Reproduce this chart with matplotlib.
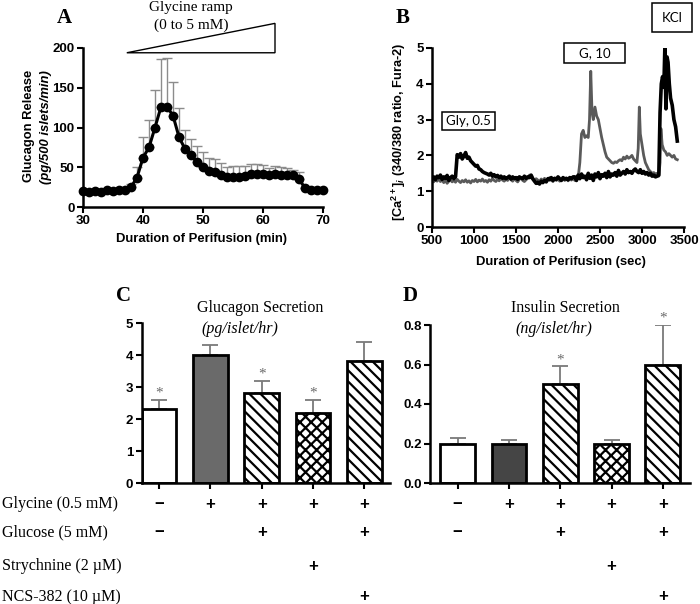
import numpy as np
import matplotlib
matplotlib.use('Agg')
import matplotlib.pyplot as plt
from matplotlib.patches import Polygon, Rectangle
from matplotlib.transforms import blended_transform_factory

# ---------------- data ----------------
# Panel A: glucagon release during glycine ramp
a_time = np.arange(30, 71)
a_mean = [20, 19, 20, 19, 22, 20, 21, 21, 25, 37, 62, 75, 100, 126, 126, 115, 88, 73, 65, 57,
          50, 45, 44, 40, 38, 38, 38, 39, 41, 42, 41, 40, 41, 40, 40, 40, 35, 24, 22, 22, 22]
a_top = [20, 19, 20, 19, 22, 20, 21, 22, 29, 50, 88, 109, 147, 186, 187, 157, 125, 97, 86, 77,
         69, 62, 61, 55, 50, 52, 52, 52, 54, 54, 53, 49, 51, 50, 49, 47, 44, 24, 22, 22, 22]

# Panel B: calcium traces
b_black_flat = [1.35, 1.40, 1.32, 1.42, 1.38, 1.45, 1.33, 1.40, 1.36, 1.44, 1.30, 1.38, 1.42, 1.35, 1.40,
                2.02, 1.95, 2.05, 1.90, 1.98, 2.08, 1.92, 1.95,
                1.85, 1.80, 1.75, 1.70, 1.72, 1.62, 1.60, 1.55, 1.52, 1.50,
                1.48, 1.45, 1.50, 1.42, 1.46, 1.40, 1.44, 1.38, 1.42, 1.36, 1.40, 1.35, 1.38, 1.42,
                1.34, 1.40, 1.36, 1.38, 1.33, 1.40, 1.37, 1.35, 1.42, 1.36, 1.40, 1.38, 1.45,
                1.35, 1.28, 1.22, 1.25, 1.20, 1.28, 1.24, 1.30, 1.26, 1.35,
                1.32, 1.38, 1.30, 1.36, 1.33, 1.40, 1.35, 1.30, 1.38, 1.34, 1.36, 1.32, 1.38, 1.35, 1.40,
                1.40, 1.30, 1.45, 1.35, 1.48, 1.38, 1.42, 1.32, 1.50, 1.36, 1.45, 1.30, 1.48, 1.40,
                1.52, 1.35, 1.46, 1.42, 1.50, 1.38, 1.55, 1.40, 1.48, 1.45, 1.52, 1.42, 1.58, 1.45,
                1.50, 1.55, 1.48, 1.60, 1.52, 1.55, 1.50, 1.58, 1.62, 1.55, 1.52, 1.60, 1.50, 1.55,
                1.48, 1.52, 1.45, 1.50, 1.42, 1.45, 1.40, 1.42,
                1.45]
b_black_peak_t = [3215, 3230, 3245, 3260, 3272, 3285, 3298, 3310, 3325, 3340, 3360, 3380, 3400, 3420]
b_black_peak = [3.2, 4.0, 4.2, 3.9, 5.0, 3.3, 4.75, 4.6, 4.0, 3.6, 3.4, 3.0, 2.8, 2.4]

b_gray_flat = [1.30, 1.26, 1.33, 1.28, 1.35, 1.27, 1.31, 1.24, 1.30, 1.22, 1.28, 1.32, 1.26, 1.30, 1.25, 1.33,
               1.28, 1.24, 1.30, 1.26, 1.32, 1.25, 1.29, 1.23, 1.30, 1.27, 1.33, 1.26, 1.31, 1.28, 1.34,
               1.27, 1.30, 1.25, 1.32, 1.28,
               1.35, 1.30, 1.27, 1.33, 1.29, 1.36, 1.31, 1.28, 1.34, 1.30, 1.40, 1.32, 1.28, 1.35, 1.30,
               1.26, 1.33, 1.38, 1.30, 1.27,
               1.32, 1.36, 1.45, 1.38, 1.33, 1.29, 1.35, 1.31, 1.27, 1.34, 1.30, 1.36, 1.29, 1.33, 1.38,
               1.31, 1.27, 1.35, 1.30, 1.34,
               1.28, 1.33, 1.37, 1.30, 1.35, 1.29, 1.34, 1.31, 1.36, 1.30, 1.33, 1.38]
b_gray_peak_t = [2260, 2280, 2300, 2320, 2340, 2360, 2375, 2390, 2405, 2420, 2440, 2460, 2480, 2500,
                 2520, 2540, 2560, 2580, 2600, 2620, 2640, 2660, 2680, 2700, 2720, 2740, 2760, 2780,
                 2800, 2820, 2840, 2860, 2880, 2900, 2920, 2940, 2955, 2968, 2980, 3000, 3020, 3040,
                 3060, 3080, 3100, 3120, 3140, 3160, 3180, 3200, 3215, 3225, 3240, 3260, 3280, 3300,
                 3320, 3340, 3360, 3380, 3400, 3420]
b_gray_peak = [1.8, 2.6, 2.7, 2.5, 2.55, 2.5, 3.0, 4.35, 3.2, 3.0, 3.35, 3.1, 3.0, 2.75,
               2.5, 2.3, 2.1, 1.95, 1.9, 1.85, 1.8, 1.78, 1.82, 1.8, 1.85, 1.88, 1.85, 1.95,
               1.9, 1.98, 1.92, 1.95, 2.0, 1.9, 1.85, 1.8, 2.2, 3.35, 2.6, 2.3, 2.0, 1.8,
               1.7, 1.6, 1.55, 1.5, 1.52, 1.48, 1.5, 1.42, 1.8, 2.75, 2.3, 2.15, 2.1, 2.0,
               2.05, 2.0, 1.95, 2.0, 1.9, 1.88]

# Panels C & D
c_vals = [2.3, 4.0, 2.8, 2.2, 3.8]
c_err = [0.3, 0.3, 0.4, 0.4, 0.6]
c_sig = [True, False, True, True, False]
d_vals = [0.20, 0.20, 0.50, 0.20, 0.60]
d_err = [0.03, 0.02, 0.09, 0.02, 0.20]
d_sig = [False, False, True, False, True]

row_labels = ['Glycine (0.5 mM)', 'Glucose (5 mM)', 'Strychnine (2 \u00b5M)', 'NCS-382 (10 \u00b5M)']
row_signs = [['\u2212', '+', '+', '+', '+'],
             ['\u2212', '', '+', '', '+'],
             ['', '', '', '+', ''],
             ['', '', '', '', '+']]

# ---------------- style ----------------
plt.rcParams['font.family'] = ['Liberation Sans', 'DejaVu Sans']
plt.rcParams['hatch.linewidth'] = 1.6
plt.rcParams['mathtext.fontset'] = 'custom'
plt.rcParams['mathtext.rm'] = 'Liberation Sans:bold'
plt.rcParams['mathtext.bf'] = 'Liberation Sans:bold'
plt.rcParams['mathtext.it'] = 'Liberation Sans:bold:italic'

SERIF = 'Liberation Serif'
TICK_FS = 9.5
LAB_FS = 9.4

fig = plt.figure(figsize=(7, 6.04), dpi=100)


def style_axes(ax):
    for s in ['top', 'right']:
        ax.spines[s].set_visible(False)
    for s in ['left', 'bottom']:
        ax.spines[s].set_linewidth(1.8)
    ax.tick_params(direction='out', length=4, width=1.5, labelsize=TICK_FS, pad=2)
    for lab in ax.get_xticklabels() + ax.get_yticklabels():
        lab.set_fontweight('bold')


def fx(px):
    return px / 700.0


def fy(py):
    return 1 - py / 604.0


# ---------------- Panel A ----------------
axA = fig.add_axes([fx(83), fy(207), (323 - 83) / 700, (207 - 48) / 604])
a_mean_arr = np.array(a_mean)
a_err_up = np.array(a_top) - a_mean_arr
axA.errorbar(a_time, a_mean, yerr=[np.zeros_like(a_err_up), a_err_up], fmt='none',
             ecolor='#8c8c8c', elinewidth=1.0, capsize=3.5, capthick=1.0, zorder=1)
axA.plot(a_time, a_mean, color='black', lw=2.2, marker='o', ms=6, zorder=3, clip_on=False)
axA.set_xlim(30, 70)
axA.set_ylim(0, 200)
axA.set_xticks([30, 40, 50, 60, 70])
axA.set_yticks([0, 50, 100, 150, 200])
style_axes(axA)
tri = Polygon([[37.3, 194], [62, 231], [62, 194]], closed=True, fill=False, edgecolor='black',
              lw=1.0, clip_on=False, transform=axA.transData)
axA.add_patch(tri)
fig.text(fx(191), fy(8), 'Glycine ramp', ha='center', va='center', family=SERIF, fontsize=11)
fig.text(fx(191), fy(25), '(0 to 5 mM)', ha='center', va='center', family=SERIF, fontsize=11)
fig.text(fx(202), fy(239), 'Duration of Perifusion (min)', ha='center', va='center',
         fontsize=LAB_FS, fontweight='bold')
fig.text(fx(29), fy(126), 'Glucagon Release', ha='center', va='center', rotation=90,
         fontsize=LAB_FS, fontweight='bold')
fig.text(fx(46), fy(127), '(pg/500 islets/min)', ha='center', va='center', rotation=90,
         fontsize=LAB_FS, fontweight='bold', style='italic')
fig.text(fx(64), fy(18), 'A', ha='center', va='center', family=SERIF, fontsize=15, fontweight='bold')

# ---------------- Panel B ----------------
axB = fig.add_axes([fx(432), fy(227), (684 - 432) / 700, (227 - 48) / 604])
gray_t = np.concatenate([np.arange(500, 2241, 20), b_gray_peak_t])
gray_v = np.concatenate([b_gray_flat, b_gray_peak])
black_t = np.concatenate([np.arange(500, 3201, 20), b_black_peak_t])
black_v = np.concatenate([b_black_flat, b_black_peak])
axB.plot(gray_t, gray_v, color='#5a5a5a', lw=2.0, zorder=2)
axB.plot(black_t, black_v, color='black', lw=2.6, zorder=3)
axB.set_xlim(500, 3500)
axB.set_ylim(0, 5)
axB.set_xticks([500, 1000, 1500, 2000, 2500, 3000, 3500])
axB.set_yticks([0, 1, 2, 3, 4, 5])
style_axes(axB)
fig.text(fx(561), fy(262), 'Duration of Perifusion (sec)', ha='center', va='center',
         fontsize=LAB_FS, fontweight='bold')
fig.text(fx(399), fy(132), r'[Ca$^{2+}$]$_{\mathit{i}}$ (340/380 ratio, Fura-2)', ha='center',
         va='center', rotation=90, fontsize=9.2, fontweight='bold')
fig.text(fx(403), fy(18), 'B', ha='center', va='center', family=SERIF, fontsize=15, fontweight='bold')

for (x0, y0, x1, y1, txt) in [(442, 112, 495, 130, 'Gly, 0.5'),
                              (564, 43, 625, 63, 'G, 10'),
                              (652, 3, 692, 32, 'KCl')]:
    fig.patches.append(Rectangle((fx(x0), fy(y1)), (x1 - x0) / 700, (y1 - y0) / 604,
                                 transform=fig.transFigure, fill=False, edgecolor='black', lw=1.1))
    fig.text(fx((x0 + x1) / 2), fy((y0 + y1) / 2), txt, ha='center', va='center',
             family=['Lato', 'DejaVu Sans'], fontsize=9.5)

# ---------------- Panels C & D ----------------
faces_c = ['white', '#6a6a6a', 'white', 'white', 'white']
faces_d = ['white', '#454545', 'white', 'white', 'white']
hatches = ['', '', '\\\\\\', 'xxx', '\\\\\\']
xpos = np.arange(5)


def bar_panel(ax, vals, errs, sig, faces, ylim, yticks, yfmt):
    ax.errorbar(xpos, vals, yerr=[np.zeros(5), errs], fmt='none', ecolor='#7a7a7a',
                elinewidth=1.3, capsize=6, capthick=1.3, zorder=1)
    ax.bar(xpos, vals, width=0.68, color=faces, edgecolor='black', linewidth=2.0,
           hatch=hatches, zorder=2)
    for i in range(5):
        if sig[i]:
            ax.text(xpos[i], vals[i] + errs[i], '*', ha='center', va='bottom', family=SERIF,
                    fontsize=11, color='#6a6a6a')
    ax.set_ylim(*ylim)
    ax.set_yticks(yticks)
    ax.set_yticklabels([yfmt.format(v) for v in yticks])
    ax.tick_params(axis='x', length=0, labelbottom=False)
    style_axes(ax)


axC = fig.add_axes([fx(141.5), fy(483), (390 - 141.5) / 700, (483 - 323) / 604])
bar_panel(axC, c_vals, c_err, c_sig, faces_c, (0, 5), [0, 1, 2, 3, 4, 5], '{:g}')
axC.set_xlim(-0.34, 4.5)

axD = fig.add_axes([fx(430), fy(483), (690 - 430) / 700, (483 - 325) / 604])
bar_panel(axD, d_vals, d_err, d_sig, faces_d, (0, 0.8), [0, 0.2, 0.4, 0.6, 0.8], '{:.1f}')
axD.set_xlim(-0.54, 4.53)

fig.text(fx(260), fy(308), 'Glucagon Secretion', ha='center', va='center', family=SERIF, fontsize=11.5)
fig.text(fx(240), fy(329), '(pg/islet/hr)', ha='center', va='center', family=SERIF, fontsize=11.5,
         style='italic')
fig.text(fx(565), fy(308), 'Insulin Secretion', ha='center', va='center', family=SERIF, fontsize=11.5)
fig.text(fx(554), fy(329), '(ng/islet/hr)', ha='center', va='center', family=SERIF, fontsize=11.5,
         style='italic')
fig.text(fx(124), fy(296), 'C', ha='center', va='center', family=SERIF, fontsize=15, fontweight='bold')
fig.text(fx(410), fy(296), 'D', ha='center', va='center', family=SERIF, fontsize=15, fontweight='bold')

row_y = [504, 532, 566, 597]
for lab, signs, py in zip(row_labels, row_signs, row_y):
    fig.text(0.003, fy(py), lab, ha='left', va='center', family=SERIF, fontsize=11.5)
    for ax in (axC, axD):
        tr = blended_transform_factory(ax.transData, fig.transFigure)
        for i, s in enumerate(signs):
            if s:
                ax.text(xpos[i], fy(py), s, transform=tr, ha='center', va='center',
                        fontsize=12, fontweight='bold', clip_on=False)

fig.savefig('out.png', dpi=100)
